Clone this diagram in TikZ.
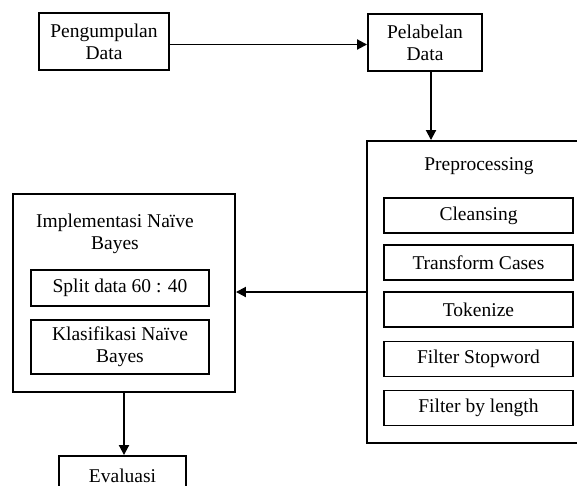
\documentclass[tikz,border=0pt]{standalone}
\usepackage{fontspec}
\setmainfont{Liberation Serif}
\usetikzlibrary{arrows.meta}
\begin{document}
\begin{tikzpicture}[x=1pt,y=-1pt,
  every node/.style={font=\fontsize{19.5}{22}\selectfont, inner sep=0pt, align=center},
  box/.style={draw, line width=1.9pt, minimum width=#1},
  arr/.style={line width=1.9pt, -{Triangle[length=10pt,width=10pt]}}]
\useasboundingbox (0,0) rectangle (577,486);
\clip (0,0) rectangle (577,486);
\node[box=130pt, minimum height=57pt] (peng) at (104,41.5) {Pengumpulan\\Data};
\node[box=114pt, minimum height=57pt] (pel) at (425,42.5) {Pelabelan\\Data};
\node[box=211pt, minimum height=302pt] (prep) at (472.5,292) {};
\node (preptitle) at (479,166) {Preprocessing};
\node[box=189pt, minimum height=35pt] (clean) at (478.5,215.5) {Cleansing};
\node[box=189pt, minimum height=35pt] (trans) at (478.5,262.5) {Transform Cases};
\node[box=189pt, minimum height=35pt] (tok) at (478.5,309.5) {Tokenize};
\node[box=189pt, minimum height=35pt] (stop) at (478.5,359) {Filter Stopword};
\node[box=189pt, minimum height=35pt] (len) at (478.5,408) {Filter by length};
\node[box=222pt, minimum height=198pt] (impl) at (124,293) {};
\node (impltitle) at (115,234) {Implementasi Naïve\\Bayes};
\node[box=178pt, minimum height=36pt] (split) at (120,288) {Split data 60 : 40};
\node[box=178pt, minimum height=54pt] (klas) at (120,347) {Klasifikasi Naïve\\Bayes};
\node[box=127pt, minimum height=40pt] (eval) at (122.5,476) {Evaluasi};
\draw[arr] ([yshift=-3pt]peng.east) -- ([yshift=-3pt]peng.east -| pel.west);
\draw[arr] ([xshift=6pt]pel.south) -- ([xshift=6pt]pel.south |- prep.north);
\draw[arr] (prep.west) -- (prep.west -| impl.east);
\draw[arr] (impl.south) -- (impl.south |- eval.north);
\end{tikzpicture}
\end{document}
